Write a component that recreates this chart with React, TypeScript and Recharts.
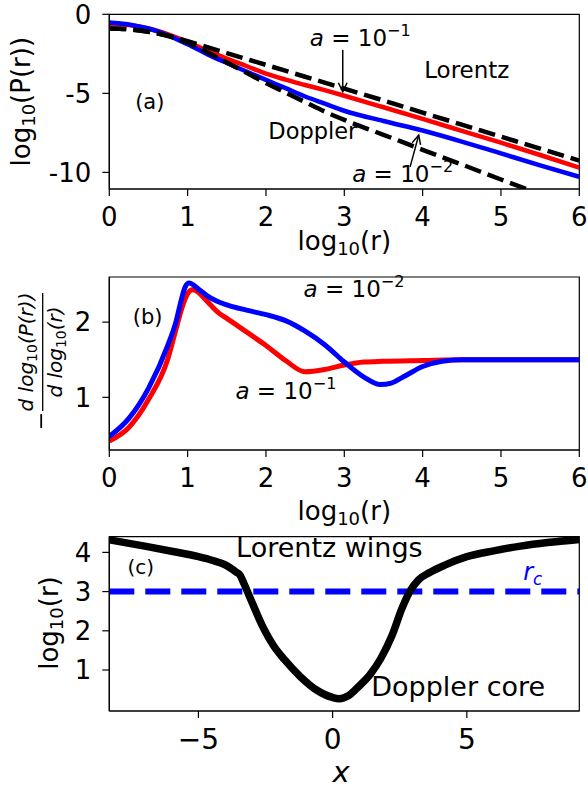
import React from "react";
import { LineChart, Line, XAxis, YAxis, ReferenceDot, ReferenceLine, ReferenceArea } from "recharts";

const FONT = "DejaVu Sans";

// (a) log10 P(r) against log10 r
const logRA = [0, 0.25, 0.5, 0.75, 1, 1.25, 1.5, 1.75, 2, 2.25, 2.5, 2.75, 3, 3.5, 4, 4.5, 5, 5.5, 6];
const logPRed = [-0.6, -0.68, -0.9, -1.27, -1.75, -2.3, -2.8, -3.27, -3.75, -4.13, -4.47, -4.8, -5.15, -5.88, -6.62, -7.37, -8.12, -8.9, -9.7];
const logPBlue = [-0.52, -0.64, -0.9, -1.33, -1.9, -2.52, -3.08, -3.62, -4.15, -4.67, -5.2, -5.65, -6.1, -6.75, -7.35, -8.05, -8.8, -9.55, -10.28];
const logRLorentz = [0, 0.25, 0.5, 0.75, 1, 1.5, 2, 2.5, 3, 3.5, 4, 4.5, 5, 5.5, 6];
const logPLorentz = [-0.9, -0.95, -1.1, -1.35, -1.7, -2.45, -3.2, -3.95, -4.7, -5.45, -6.22, -6.98, -7.74, -8.5, -9.25];
const logRDoppler = [0, 0.25, 0.5, 0.75, 1, 1.25, 1.5, 1.75, 2, 2.25, 2.5, 2.75, 3, 3.5, 4, 4.5, 5, 5.35];
const logPDoppler = [-0.9, -0.95, -1.1, -1.38, -1.8, -2.4, -3.05, -3.7, -4.35, -4.95, -5.55, -6.15, -6.68, -7.62, -8.57, -9.5, -10.45, -11.1];

// (b) local slope
const slopeRRed = [0, 0.25, 0.5, 0.75, 0.85, 0.93, 1.0, 1.06, 1.12, 1.2, 1.3, 1.4, 1.5, 1.75, 2, 2.25, 2.5, 2.75, 3, 3.25, 3.5, 4, 4.5, 5, 6];
const slopeRed = [0.42, 0.6, 0.97, 1.52, 1.9, 2.2, 2.38, 2.43, 2.41, 2.33, 2.22, 2.12, 2.05, 1.87, 1.69, 1.49, 1.34, 1.37, 1.43, 1.47, 1.48, 1.49, 1.5, 1.5, 1.5];
const slopeRBlue = [0, 0.25, 0.5, 0.75, 0.85, 0.92, 0.97, 1.02, 1.08, 1.15, 1.25, 1.37, 1.5, 1.75, 2, 2.25, 2.5, 2.75, 3, 3.25, 3.46, 3.6, 3.75, 4, 4.25, 4.5, 5, 6];
const slopeBlue = [0.48, 0.72, 1.12, 1.7, 2.0, 2.3, 2.47, 2.52, 2.49, 2.43, 2.35, 2.28, 2.23, 2.16, 2.1, 2.02, 1.88, 1.7, 1.47, 1.27, 1.17, 1.19, 1.27, 1.41, 1.48, 1.5, 1.5, 1.5];

// (c) log10 r against frequency x
const freqX = [-8.32, -7, -6, -5, -4.5, -4, -3.6, -3.45, -3.3, -3.0, -2.6, -2.2, -1.8, -1.2, -0.6, 0, 0.25, 0.6, 1.0, 1.4, 1.8, 2.2, 2.6, 2.9, 3.2, 3.6, 4.2, 5, 6, 7, 8, 9.19];
const logRFreq = [4.32, 4.16, 4.03, 3.89, 3.8, 3.68, 3.5, 3.42, 3.2, 2.72, 2.1, 1.62, 1.27, 0.83, 0.49, 0.3, 0.27, 0.35, 0.6, 0.89, 1.3, 1.86, 2.6, 3.03, 3.3, 3.48, 3.68, 3.89, 4.04, 4.16, 4.25, 4.33];
const rcLevel = 3;

const toPoints = (xs: number[], ys: number[]) => xs.map((x, i) => ({ x, y: ys[i] }));

const axisStroke = { stroke: "#000", strokeWidth: 1.2 };
const tickStyle = { fill: "#000", fontSize: 26, fontFamily: FONT };

function ArrowShape(p: any) {
  const { x1, y1, x2, y2 } = p;
  const ang = Math.atan2(y2 - y1, x2 - x1);
  const len = 10;
  const a1 = ang + Math.PI - 0.45;
  const a2 = ang + Math.PI + 0.45;
  return (
    <g>
      <line x1={x1} y1={y1} x2={x2} y2={y2} stroke="#000" strokeWidth={1.5} />
      <polyline
        points={`${x2 + len * Math.cos(a1)},${y2 + len * Math.sin(a1)} ${x2},${y2} ${x2 + len * Math.cos(a2)},${y2 + len * Math.sin(a2)}`}
        fill="none"
        stroke="#000"
        strokeWidth={1.5}
      />
    </g>
  );
}

const plainText = (text: string, size: number, anchor = "start") => (p: any) => (
  <text x={p.cx} y={p.cy} fontSize={size} fontFamily={FONT} fill="#000" textAnchor={anchor}>
    {text}
  </text>
);

const aText = (sup: string, size: number) => (p: any) => (
  <text x={p.cx} y={p.cy} fontSize={size} fontFamily={FONT} fill="#000">
    <tspan fontStyle="italic">a</tspan>
    <tspan> = 10</tspan>
    <tspan fontSize={size * 0.7} dy={-size * 0.42}>{sup}</tspan>
  </text>
);

const LogRXLabel = ({ x, y }: { x: number; y: number }) => (
  <text x={x} y={y} textAnchor="middle" fontSize={26} fontFamily={FONT} fill="#000">
    log<tspan fontSize={18} dy={5}>10</tspan>
    <tspan dy={-5}>(r)</tspan>
  </text>
);

const RotLabel = ({ x, y, tail }: { x: number; y: number; tail: string }) => (
  <g transform={`translate(${x},${y}) rotate(-90)`}>
    <text x={0} y={0} textAnchor="middle" fontSize={26} fontFamily={FONT} fill="#000">
      log<tspan fontSize={18} dy={5}>10</tspan>
      <tspan dy={-5}>{tail}</tspan>
    </text>
  </g>
);

const SlopeYLabel = () => (
  <g transform="translate(42.7,82) rotate(-90)">
    <line x1={-76} y1={-1.5} x2={-62} y2={-1.5} stroke="#000" strokeWidth={1.8} />
    <line x1={-59} y1={0} x2={59} y2={0} stroke="#000" strokeWidth={1.3} />
    <text x={0} y={-9.5} textAnchor="middle" fontSize={20} fontFamily={FONT} fill="#000" fontStyle="italic">
      d log<tspan fontSize={14} dy={4} fontStyle="normal">10</tspan>
      <tspan dy={-4}>(P(r))</tspan>
    </text>
    <text x={0} y={19} textAnchor="middle" fontSize={20} fontFamily={FONT} fill="#000" fontStyle="italic">
      d log<tspan fontSize={14} dy={4} fontStyle="normal">10</tspan>
      <tspan dy={-4}>(r)</tspan>
    </text>
  </g>
);

function PanelA() {
  return (
    <LineChart width={588} height={270} margin={{ top: 14.3, right: 8.7, bottom: 0, left: 0 }}>
      <XAxis
        type="number"
        dataKey="x"
        domain={[0, 6]}
        ticks={[0, 1, 2, 3, 4, 5, 6]}
        interval={0}
        allowDataOverflow
        height={81}
        tick={tickStyle}
        tickSize={7}
        tickMargin={12}
        tickLine={axisStroke}
        axisLine={axisStroke}
        label={{ content: () => <LogRXLabel x={344.3} y={250} /> }}
      />
      <YAxis
        type="number"
        dataKey="y"
        domain={[-11.05, 0]}
        ticks={[-10, -5, 0]}
        interval={0}
        allowDataOverflow
        width={109.3}
        tick={tickStyle}
        tickSize={7}
        tickMargin={11}
        tickLine={axisStroke}
        axisLine={axisStroke}
        label={{ content: () => <RotLabel x={30} y={101.7} tail="(P(r))" /> }}
      />
      <ReferenceArea x1={0} x2={6} y1={-11.05} y2={0} fill="none" stroke="#000" strokeWidth={1.2} ifOverflow="visible" />
      <Line data={toPoints(logRA, logPRed)} dataKey="y" type="monotone" stroke="#ff0000" strokeWidth={4.5} dot={false} isAnimationActive={false} />
      <Line data={toPoints(logRA, logPBlue)} dataKey="y" type="monotone" stroke="#0000ff" strokeWidth={4.5} dot={false} isAnimationActive={false} />
      <Line data={toPoints(logRLorentz, logPLorentz)} dataKey="y" type="monotone" stroke="#000" strokeWidth={4.5} strokeDasharray="17 7" dot={false} isAnimationActive={false} />
      <Line data={toPoints(logRDoppler, logPDoppler)} dataKey="y" type="monotone" stroke="#000" strokeWidth={4.5} strokeDasharray="17 7" dot={false} isAnimationActive={false} />
      <ReferenceLine segment={[{ x: 2.98, y: -2.26 }, { x: 2.98, y: -4.9 }]} shape={ArrowShape} ifOverflow="visible" />
      <ReferenceLine segment={[{ x: 3.84, y: -9.65 }, { x: 3.95, y: -7.64 }]} shape={ArrowShape} ifOverflow="visible" />
      <ReferenceDot x={2.56} y={-2.0} r={0} ifOverflow="visible" shape={aText("\u22121", 23)} />
      <ReferenceDot x={3.1} y={-10.61} r={0} ifOverflow="visible" shape={aText("\u22122", 23)} />
      <ReferenceDot x={4.02} y={-4.05} r={0} ifOverflow="visible" shape={plainText("Lorentz", 23)} />
      <ReferenceDot x={2.03} y={-7.91} r={0} ifOverflow="visible" shape={plainText("Doppler", 22.5)} />
      <ReferenceDot x={0.33} y={-6.01} r={0} ifOverflow="visible" shape={plainText("(a)", 21)} />
    </LineChart>
  );
}

function PanelB() {
  return (
    <LineChart width={588} height={260} margin={{ top: 7, right: 8.7, bottom: 0, left: 0 }}>
      <XAxis
        type="number"
        dataKey="x"
        domain={[0, 6]}
        ticks={[0, 1, 2, 3, 4, 5, 6]}
        interval={0}
        allowDataOverflow
        height={80}
        tick={tickStyle}
        tickSize={7}
        tickMargin={12}
        tickLine={axisStroke}
        axisLine={axisStroke}
        label={{ content: () => <LogRXLabel x={344.3} y={250} /> }}
      />
      <YAxis
        type="number"
        dataKey="y"
        domain={[0.3, 2.6]}
        ticks={[1, 2]}
        interval={0}
        allowDataOverflow
        width={109.3}
        tick={tickStyle}
        tickSize={7}
        tickMargin={11}
        tickLine={axisStroke}
        axisLine={axisStroke}
        label={{ content: () => <SlopeYLabel /> }}
      />
      <ReferenceArea x1={0} x2={6} y1={0.3} y2={2.6} fill="none" stroke="#000" strokeWidth={1.2} ifOverflow="visible" />
      <Line data={toPoints(slopeRRed, slopeRed)} dataKey="y" type="monotone" stroke="#ff0000" strokeWidth={5} dot={false} isAnimationActive={false} />
      <Line data={toPoints(slopeRBlue, slopeBlue)} dataKey="y" type="monotone" stroke="#0000ff" strokeWidth={5} dot={false} isAnimationActive={false} />
      <ReferenceDot x={0.3} y={1.98} r={0} ifOverflow="visible" shape={plainText("(b)", 21)} />
      <ReferenceDot x={2.48} y={2.34} r={0} ifOverflow="visible" shape={aText("\u22122", 23)} />
      <ReferenceDot x={1.61} y={0.98} r={0} ifOverflow="visible" shape={aText("\u22121", 23)} />
    </LineChart>
  );
}

function PanelC() {
  return (
    <LineChart width={588} height={261} margin={{ top: 6.7, right: 8.7, bottom: 0, left: 0 }}>
      <XAxis
        type="number"
        dataKey="x"
        domain={[-8.32, 9.19]}
        ticks={[-5, 0, 5]}
        interval={0}
        allowDataOverflow
        height={80}
        tick={{ ...tickStyle, fontSize: 28 }}
        tickSize={7}
        tickMargin={11}
        tickLine={axisStroke}
        axisLine={axisStroke}
        tickFormatter={(v: number) => (v < 0 ? `\u2212${-v}` : `${v}`)}
        label={{
          content: () => (
            <text x={341} y={252} textAnchor="middle" fontSize={29} fontFamily={FONT} fontStyle="italic" fill="#000">
              x
            </text>
          ),
        }}
      />
      <YAxis
        type="number"
        dataKey="y"
        domain={[-0.045, 4.4]}
        ticks={[1, 2, 3, 4]}
        interval={0}
        allowDataOverflow
        width={109.3}
        tick={tickStyle}
        tickSize={7}
        tickMargin={11}
        tickLine={axisStroke}
        axisLine={axisStroke}
        label={{ content: () => <RotLabel x={58} y={93} tail="(r)" /> }}
      />
      <ReferenceArea x1={-8.32} x2={9.19} y1={-0.045} y2={4.4} fill="none" stroke="#000" strokeWidth={1.2} ifOverflow="visible" />
      <ReferenceLine y={rcLevel} stroke="#0000ff" strokeWidth={6} strokeDasharray="25 11" />
      <Line data={toPoints(freqX, logRFreq)} dataKey="y" type="monotone" stroke="#000" strokeWidth={7.5} dot={false} isAnimationActive={false} />
      <ReferenceDot x={-0.12} y={3.89} r={0} ifOverflow="visible" shape={plainText("Lorentz wings", 27, "middle")} />
      <ReferenceDot x={-7.64} y={3.46} r={0} ifOverflow="visible" shape={plainText("(c)", 20)} />
      <ReferenceDot x={1.44} y={0.33} r={0} ifOverflow="visible" shape={plainText("Doppler core", 27)} />
      <ReferenceDot
        x={7.1}
        y={3.29}
        r={0}
        ifOverflow="visible"
        shape={(p: any) => (
          <text x={p.cx} y={p.cy} fontSize={24} fontFamily={FONT} fill="#0000ff" fontStyle="italic">
            r<tspan fontSize={17} dy={5}>c</tspan>
          </text>
        )}
      />
    </LineChart>
  );
}

export default function App() {
  return (
    <div style={{ position: "absolute", left: 0, top: 0, width: 588, height: 791, background: "#fff" }}>
      <div style={{ position: "absolute", left: 0, top: 0 }}>
        <PanelA />
      </div>
      <div style={{ position: "absolute", left: 0, top: 270 }}>
        <PanelB />
      </div>
      <div style={{ position: "absolute", left: 0, top: 530 }}>
        <PanelC />
      </div>
    </div>
  );
}
